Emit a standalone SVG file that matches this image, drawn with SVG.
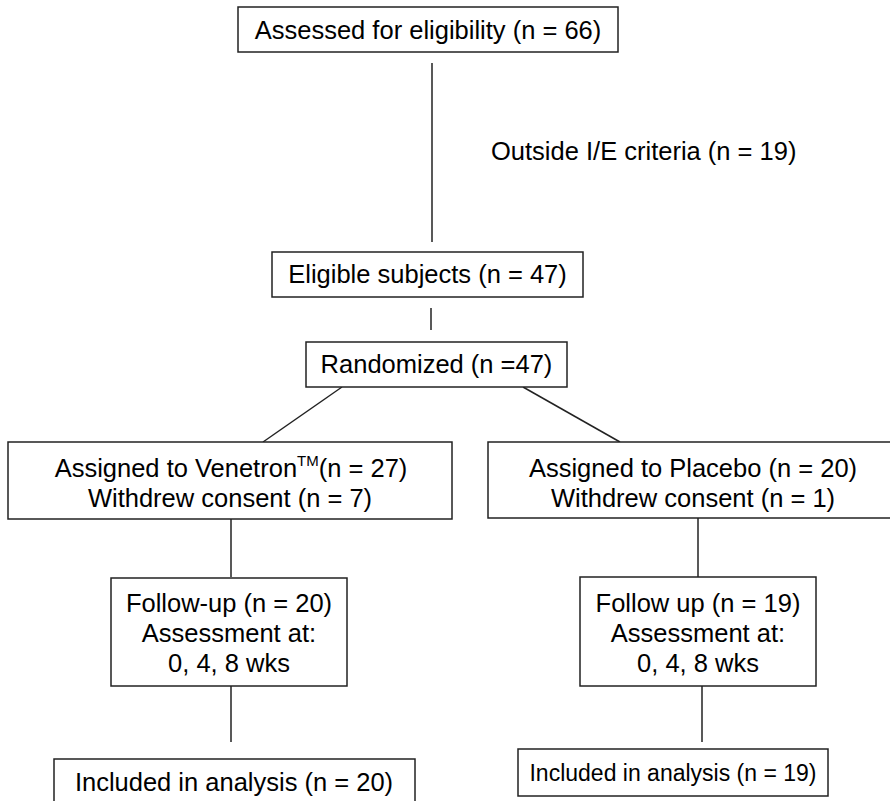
<svg xmlns="http://www.w3.org/2000/svg" width="890" height="801" viewBox="0 0 890 801">
<style>
.box{fill:#fff;stroke:#222;stroke-width:1.5}
.ln{stroke:#222;stroke-width:1.5;fill:none}
.t{font-family:"Liberation Sans",Arial,sans-serif;font-size:25.5px;fill:#000;text-anchor:middle}
.s{text-anchor:start}
.sm{font-size:23px}
</style>
<rect width="890" height="801" fill="#fff"/>
<g id="connectors">
<line class="ln" x1="432" y1="63" x2="432" y2="242"/>
<line class="ln" x1="431" y1="308" x2="431" y2="330"/>
<line class="ln" x1="342" y1="387" x2="263" y2="442"/>
<line class="ln" x1="523" y1="387" x2="620" y2="442"/>
<line class="ln" x1="231" y1="519" x2="231" y2="577"/>
<line class="ln" x1="698" y1="518" x2="698" y2="577"/>
<line class="ln" x1="231" y1="686" x2="231" y2="742"/>
<line class="ln" x1="702" y1="686" x2="702" y2="742"/>
</g>
<g id="assessed">
<rect class="box" x="238" y="7" width="380" height="45"/>
<text class="t" x="428" y="39">Assessed for eligibility (n = 66)</text>
</g>
<g id="outside">
<text class="t s" x="491" y="160">Outside I/E criteria (n = 19)</text>
</g>
<g id="eligible">
<rect class="box" x="272" y="252" width="311" height="45"/>
<text class="t" x="427.5" y="283">Eligible subjects (n = 47)</text>
</g>
<g id="randomized">
<rect class="box" x="306" y="342" width="261" height="45"/>
<text class="t" x="436.5" y="373">Randomized (n =47)</text>
</g>
<g id="venetron">
<rect class="box" x="8" y="442" width="444" height="77"/>
<text class="t" x="231" y="477">Assigned to Venetron<tspan font-size="15" dy="-11">TM</tspan><tspan dy="11">(n = 27)</tspan></text>
<text class="t" x="230" y="507">Withdrew consent (n = 7)</text>
</g>
<g id="placebo">
<rect class="box" x="488" y="442" width="410" height="76"/>
<text class="t" x="693" y="477">Assigned to Placebo (n = 20)</text>
<text class="t" x="693" y="507">Withdrew consent (n = 1)</text>
</g>
<g id="followup-left">
<rect class="box" x="111" y="578" width="236" height="108"/>
<text class="t" x="229" y="612">Follow-up (n = 20)</text>
<text class="t" x="229" y="642">Assessment at:</text>
<text class="t" x="229" y="672">0, 4, 8 wks</text>
</g>
<g id="followup-right">
<rect class="box" x="580" y="577" width="236" height="109"/>
<text class="t" x="698" y="612">Follow up (n = 19)</text>
<text class="t" x="698" y="642">Assessment at:</text>
<text class="t" x="698" y="672">0, 4, 8 wks</text>
</g>
<g id="analysis-left">
<rect class="box" x="54" y="759" width="361" height="60"/>
<text class="t" x="234" y="791">Included in analysis (n = 20)</text>
</g>
<g id="analysis-right">
<rect class="box" x="518" y="749" width="310" height="47"/>
<text class="t sm" x="673" y="781">Included in analysis (n = 19)</text>
</g>
</svg>
